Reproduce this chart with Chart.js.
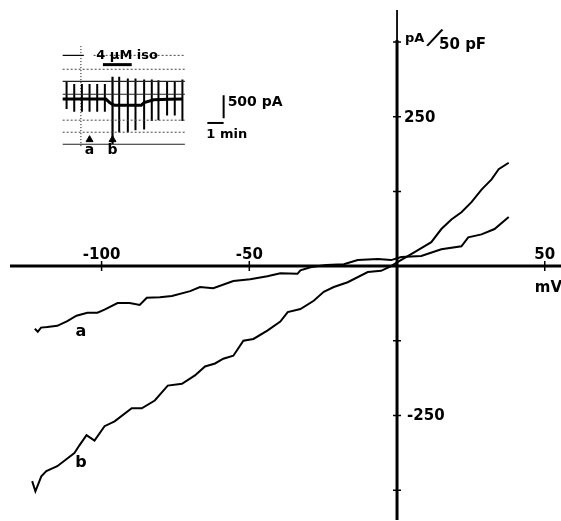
<!DOCTYPE html>
<html><head><meta charset="utf-8">
<script src="https://cdn.jsdelivr.net/npm/chart.js@4"></script>
<style>
html,body{margin:0;padding:0;background:#fff;}
#wrap{position:relative;width:561px;height:521px;overflow:hidden;}
#main{position:absolute;left:0;top:0;}
#inset{position:absolute;left:50px;top:30px;}
</style></head><body>
<div id="wrap"><canvas id="main" width="561" height="521"></canvas><canvas id="inset" width="240" height="135"></canvas></div>
<script>
// ---------- main I-V data (mV, pA/50 pF) ----------
const aVoltage = [-122.6, -121.6, -120.5, -118.4, -115, -111.6, -108.5, -104.8, -101.4, -99, -94.6, -90.5, -87.1, -84.7, -80.3, -76.2, -70, -66.7, -62.2, -55.4, -49.7, -43.9, -39.5, -33.7, -32.7, -29.3, -24, -18, -13.3, -6.5, -2, 1.4, 8.2, 15, 21.8, 24.1, 28.6, 33, 37.8];
const aCurrent = [-105, -110, -103, -102, -100, -92, -83, -78, -78, -73, -62, -62, -65, -53, -52, -50, -42, -35, -37, -25, -22, -17, -12, -13, -7, -2, 2, 3, 10, 12, 10, 15, 17, 28, 33, 48, 53, 62, 82];
const bVoltage = [-123.5, -122.4, -120.4, -118.7, -115, -111.6, -109.2, -107.5, -105.1, -102.4, -99, -95.6, -89.8, -86.4, -82, -77.6, -72.8, -68.4, -65, -61.6, -58.8, -55.4, -52, -48.6, -43.9, -39.5, -37, -32.7, -28.2, -24.8, -21.4, -16.7, -9.9, -5.4, -2, 0.3, 5.8, 11.6, 15, 18.4, 21.8, 25.2, 28.6, 32, 34.4, 37.8];
const bCurrent = [-360, -377, -352, -343, -335, -322, -313, -300, -283, -292, -268, -260, -238, -238, -225, -200, -197, -183, -168, -163, -155, -150, -125, -122, -108, -93, -77, -72, -58, -43, -35, -27, -10, -8, 0, 7, 23, 40, 62, 78, 90, 107, 128, 145, 162, 173];
const curveNames = ['a', 'b'];
const curveLabelAt = [[-107, -110], [-107, -330]];
const xTickValues = [-100, -50, 50];
const xTickLabels = ['-100', '-50', '50'];
const yTickValues = [375, 250, 125, -125, -250, -375];
const yTickLabels = ['', '250', '', '', '-250', ''];
const xUnit = 'mV';
const yUnitTop = 'pA';
const yUnitBottom = '50 pF';

// ---------- inset recording data (min, pA) ----------
const traceTime = [0, 2.65, 2.88, 3.06, 3.2, 4.82, 5.0, 5.59, 6.5, 7.35];
const traceCurrent = [0, 0, -80, -120, -140, -140, -80, -20, -10, 0];
const pulseTime = [0.24, 0.71, 1.18, 1.65, 2.12, 2.59, 3.06, 3.47, 4.0, 4.47, 5.0, 5.47, 5.88, 6.41, 6.88, 7.35];
const pulseTop = [380, 320, 320, 320, 320, 320, 480, 480, 440, 440, 420, 420, 400, 380, 380, 420];
const pulseBottom = [-220, -280, -280, -280, -280, -280, -980, -720, -720, -680, -660, -480, -460, -360, -360, -480];
const gridSolid = [380, 100, -980];
const gridDotted = [640, -460, -720];
const topLineLevel = 940;
const topLineSolidSpan = [0, 1.3];
const topLineDottedSpan = [1.9, 7.5];
const gridSpan = [0, 7.5];
const markerTime = [1.12];
const markerSpan = [1140, -1020];
const isoSpan = [2.47, 4.24];
const isoLevel = 740;
const isoLabel = '4 µM iso';
const arrowTime = [1.65, 3.06];
const arrowNames = ['a', 'b'];
const arrowLevel = -880;
const scaleBarTime = [8.88, 9.88];
const scaleBarCurrent = [80, -420];
const scaleBarLabels = ['500 pA', '1 min'];

const BOLD = 'bold 15px "DejaVu Sans"';

const toXY = (xs, ys) => xs.map((v, i) => ({x: v, y: ys[i]}));

const mainAxes = {
  id: 'mainAxes',
  afterDatasetsDraw(chart) {
    const {ctx, chartArea: ca, scales: {x, y}} = chart;
    const x0 = x.getPixelForValue(0), y0 = y.getPixelForValue(0);
    ctx.save();
    ctx.strokeStyle = '#000';
    ctx.lineWidth = 3;
    ctx.beginPath(); ctx.moveTo(ca.left, y0); ctx.lineTo(ca.right, y0); ctx.stroke();
    ctx.beginPath(); ctx.moveTo(x0, ca.top + 30); ctx.lineTo(x0, ca.bottom); ctx.stroke();
    ctx.lineWidth = 1.8;
    ctx.beginPath(); ctx.moveTo(x0, ca.top); ctx.lineTo(x0, ca.top + 31); ctx.stroke();
    ctx.lineWidth = 1.5;
    ctx.beginPath();
    xTickValues.forEach(v => { const p = x.getPixelForValue(v); ctx.moveTo(p, y0 - 5); ctx.lineTo(p, y0 + 5); });
    yTickValues.forEach(v => { const p = y.getPixelForValue(v); ctx.moveTo(x0 - 4, p); ctx.lineTo(x0 + 4, p); });
    ctx.stroke();
    ctx.fillStyle = '#000';
    ctx.font = BOLD;
    ctx.textAlign = 'center'; ctx.textBaseline = 'alphabetic';
    xTickValues.forEach((v, i) => ctx.fillText(xTickLabels[i], x.getPixelForValue(v), y0 - 7));
    ctx.textAlign = 'left'; ctx.textBaseline = 'middle';
    yTickValues.forEach((v, i) => { if (yTickLabels[i]) ctx.fillText(yTickLabels[i], x0 + (yTickLabels[i][0] === '-' ? 10 : 7), y.getPixelForValue(v) + 1); });
    // units
    ctx.textAlign = 'left'; ctx.textBaseline = 'alphabetic';
    ctx.fillText(xUnit, x.getPixelForValue(50) - 10, y0 + 26);
    const yTop = y.getPixelForValue(yTickValues[0]);
    ctx.font = 'bold 13px "DejaVu Sans"';
    ctx.fillText(yUnitTop, x0 + 8, yTop);
    ctx.font = BOLD;
    ctx.fillText(yUnitBottom, x0 + 42, yTop + 7);
    ctx.save();
    ctx.translate(x0 + 37, yTop - 3);
    ctx.rotate(0.45);
    ctx.font = '26px "DejaVu Sans"';
    ctx.textAlign = 'center'; ctx.textBaseline = 'middle';
    ctx.fillText('/', 0, 0);
    ctx.restore();
    // curve labels
    ctx.font = 'bold 16px "DejaVu Sans"';
    ctx.textAlign = 'center'; ctx.textBaseline = 'middle';
    curveNames.forEach((n, i) => ctx.fillText(n, x.getPixelForValue(curveLabelAt[i][0]), y.getPixelForValue(curveLabelAt[i][1])));
    ctx.restore();
  }
};

new Chart(document.getElementById('main'), {
  type: 'scatter',
  data: {datasets: [
    {label: 'a', data: toXY(aVoltage, aCurrent), showLine: true, borderColor: '#000', borderWidth: 2, pointRadius: 0, tension: 0},
    {label: 'b', data: toXY(bVoltage, bCurrent), showLine: true, borderColor: '#000', borderWidth: 2, pointRadius: 0, tension: 0}
  ]},
  options: {
    responsive: false, animation: false, devicePixelRatio: 1,
    layout: {padding: {left: 10, top: 10, right: 0, bottom: 1}},
    plugins: {legend: {display: false}, tooltip: {enabled: false}},
    scales: {
      x: {type: 'linear', display: false, min: -131, max: 55.5},
      y: {type: 'linear', display: false, min: -425, max: 428.6}
    }
  },
  plugins: [mainAxes]
});

// ---------- inset ----------
const seg = (x1, y1, x2, y2, extra) => Object.assign({data: [{x: x1, y: y1}, {x: x2, y: y2}], showLine: true, borderColor: '#000', borderWidth: 1, pointRadius: 0}, extra || {});
const insetSets = [];
gridSolid.forEach(v => insetSets.push(seg(gridSpan[0], v, gridSpan[1], v, {borderWidth: 1.2, borderColor: '#222'})));
gridDotted.forEach(v => insetSets.push(seg(gridSpan[0], v, gridSpan[1], v, {borderWidth: 1, borderColor: '#444', borderDash: [2, 2]})));
insetSets.push(seg(topLineSolidSpan[0], topLineLevel, topLineSolidSpan[1], topLineLevel, {borderWidth: 1.2}));
insetSets.push(seg(topLineDottedSpan[0], topLineLevel, topLineDottedSpan[1], topLineLevel, {borderWidth: 1, borderColor: '#444', borderDash: [2, 2]}));
markerTime.forEach(t => insetSets.push(seg(t, markerSpan[0], t, markerSpan[1], {borderWidth: 1, borderDash: [1, 2]})));
insetSets.push(seg(isoSpan[0], isoLevel, isoSpan[1], isoLevel, {borderWidth: 3}));
pulseTime.forEach((t, i) => insetSets.push(seg(t, pulseTop[i], t, pulseBottom[i], {borderWidth: i === 6 ? 2.2 : 2})));
insetSets.push({data: toXY(traceTime, traceCurrent), showLine: true, borderColor: '#000', borderWidth: 3, pointRadius: 0});
insetSets.push({data: arrowTime.map(t => ({x: t, y: arrowLevel})), showLine: false, pointStyle: 'triangle', pointRadius: 4, backgroundColor: '#000', borderColor: '#000'});
insetSets.push(seg(scaleBarTime[1], scaleBarCurrent[0], scaleBarTime[1], scaleBarCurrent[1], {borderWidth: 2}));
insetSets.push(seg(scaleBarTime[0], scaleBarCurrent[1] - 100, scaleBarTime[1], scaleBarCurrent[1] - 100, {borderWidth: 2}));

const insetText = {
  id: 'insetText',
  afterDatasetsDraw(chart) {
    const {ctx, scales: {x, y}} = chart;
    ctx.save();
    ctx.fillStyle = '#000';
    ctx.font = 'bold 13px "DejaVu Sans"';
    ctx.textAlign = 'center'; ctx.textBaseline = 'middle';
    ctx.fillText(isoLabel, x.getPixelForValue((isoSpan[0] + isoSpan[1]) / 2 + 0.6), y.getPixelForValue(topLineLevel));
    ctx.font = 'bold 14px "DejaVu Sans"';
    arrowTime.forEach((t, i) => ctx.fillText(arrowNames[i], x.getPixelForValue(t), y.getPixelForValue(arrowLevel - 230)));
    ctx.textAlign = 'left';
    ctx.font = 'bold 14px "DejaVu Sans"';
    ctx.fillText(scaleBarLabels[0], x.getPixelForValue(scaleBarTime[1]) + 4, y.getPixelForValue((scaleBarCurrent[0] + scaleBarCurrent[1]) / 2 + 90));
    ctx.font = 'bold 13px "DejaVu Sans"';
    ctx.fillText(scaleBarLabels[1], x.getPixelForValue(scaleBarTime[0]) - 1, y.getPixelForValue(scaleBarCurrent[1] - 360));
    ctx.restore();
  }
};

new Chart(document.getElementById('inset'), {
  type: 'scatter',
  data: {datasets: insetSets},
  options: {
    responsive: false, animation: false, devicePixelRatio: 1,
    layout: {padding: 0},
    plugins: {legend: {display: false}, tooltip: {enabled: false}},
    scales: {
      x: {type: 'linear', display: false, min: -0.4706, max: 13.647},
      y: {type: 'linear', display: false, min: -1320, max: 1380}
    }
  },
  plugins: [insetText]
});
</script></body></html>
